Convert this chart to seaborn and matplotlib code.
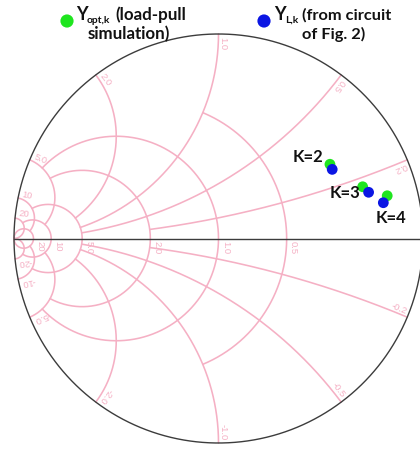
import numpy as np
import pandas as pd
import matplotlib
matplotlib.use("Agg")
import matplotlib.pyplot as plt
import seaborn as sns

# Harmonic index of each point pair
harmonic = ["K=2", "K=3", "K=4"]
# Optimum load admittance from load-pull simulation (reflection plane: re, im)
yopt_re = [0.545, 0.705, 0.825]
yopt_im = [0.363, 0.253, 0.209]
# Load admittance obtained from the circuit model
yl_re = [0.556, 0.734, 0.806]
yl_im = [0.338, 0.226, 0.175]

# Admittance Smith chart grid: conductance circles and susceptance arcs
g_values = [0.5, 1.0, 2.0, 5.0, 10.0, 20.0]
g_limits = [1.0, 5.0, 5.0, 10.0, 20.0, np.inf]      # |b| extent of each circle
g_labels = ["0.5", "1.0", "2.0", "5.0", "10", "20"]
b_values = [0.2, 0.5, 1.0, 2.0, 5.0, 10.0, 20.0]
b_limits = [2.0, 5.0, 5.0, 5.0, 10.0, 20.0, np.inf]  # g extent of each arc
b_labels = ["0.2", "0.5", "1.0", "2.0", "5.0", "10", "20"]

GRID = "#f5b0c4"
EDGE = "#3c3c3c"
GREEN = "#1fe51f"
BLUE = "#0b16e3"
INK = "#111111"

sns.set_theme(style="white")
plt.rcParams["font.family"] = ["Lato", "DejaVu Sans"]


def to_plane(g, b):
    """Map normalized admittance g + jb onto the (mirrored) chart plane."""
    y = np.asarray(g) + 1j * np.asarray(b)
    w = (y - 1) / (y + 1)
    return -w.real, w.imag


fig = plt.figure(figsize=(4.2, 4.51), dpi=100)
ax = fig.add_axes([0, 0, 1, 1])
scale = 204.5
x0 = -1 - 14 / scale
y1 = 1 + 34 / scale
ax.set_xlim(x0, x0 + 420 / scale)
ax.set_ylim(y1 - 451 / scale, y1)
ax.set_aspect("equal")
ax.axis("off")

label_kw = dict(fontsize=6.8, color=GRID, family=["Liberation Sans"],
                rotation_mode="anchor", va="bottom")

# conductance circles
for g, lim, lab in zip(g_values, g_limits, g_labels):
    t = np.linspace(-np.arctan(lim), np.arctan(lim), 900)
    t = np.clip(t, -np.pi / 2 + 1e-9, np.pi / 2 - 1e-9)
    u, v = to_plane(np.full_like(t, g), np.tan(t))
    ax.plot(u, v, color=GRID, lw=1.15, zorder=1)
    ue, _ = to_plane(g, 0.0)
    ax.text(ue + 0.012, -0.012, lab, rotation=-90, ha="left", **label_kw)

# susceptance arcs (both signs)
for b, lim, lab in zip(b_values, b_limits, b_labels):
    t = np.linspace(0, min(np.arctan(lim), np.pi / 2 - 1e-9), 900)
    gg = np.tan(t)
    for sgn in (1, -1):
        u, v = to_plane(gg, np.full_like(gg, sgn * b))
        ax.plot(u, v, color=GRID, lw=1.15, zorder=1)
        pu, pv = to_plane(0.0, sgn * b)
        theta = np.degrees(np.arctan2(pv, pu))
        r = 0.985
        if sgn > 0:
            ax.text(r * pu, r * pv, lab, rotation=theta + 180, ha="left",
                    **label_kw)
        else:
            ax.text(r * pu, r * pv, "-" + lab, rotation=theta, ha="right",
                    **label_kw)

# outer boundary and real axis
phi = np.linspace(0, 2 * np.pi, 1000)
ax.plot(np.cos(phi), np.sin(phi), color=EDGE, lw=1.0, zorder=2)
ax.plot([-1, 1.2], [0, 0], color=EDGE, lw=1.0, zorder=2)

# data points
df = pd.DataFrame({
    "re": yopt_re + yl_re,
    "im": yopt_im + yl_im,
    "source": ["opt"] * len(yopt_re) + ["load"] * len(yl_re),
})
sns.scatterplot(data=df, x="re", y="im", hue="source",
                palette={"opt": GREEN, "load": BLUE}, s=60,
                edgecolor="none", legend=False, ax=ax, zorder=5)

offsets = [(-24, 12), (-24, -1), (8, -15)]
for lab, xr, yi, off in zip(harmonic, yl_re, yl_im, offsets):
    ax.annotate(lab, (xr, yi), xytext=off, textcoords="offset pixels",
                ha="center", va="center", fontsize=12, fontweight="bold",
                color=INK, zorder=6)

# legend at the top (positions in pixels from the top-left corner)
W, H = 420.0, 451.0


def head(px, py, s, size=12.2):
    ax.text(px / W, 1 - py / H, s, transform=ax.transAxes, ha="left",
            va="baseline", fontsize=size, fontweight="bold", color=INK)


ax.scatter([67 / W], [1 - 21 / H], s=90, color=GREEN, edgecolor="none",
           transform=ax.transAxes, clip_on=False, zorder=6)
ax.scatter([264 / W], [1 - 21 / H], s=90, color=BLUE, edgecolor="none",
           transform=ax.transAxes, clip_on=False, zorder=6)
head(76, 20, "Y", size=13.0)
head(87, 23, "opt,k", size=7.4)
head(115, 20, "(load-pull")
head(88, 39, "simulation)")
head(274, 20, "Y", size=13.0)
head(285, 23, "L,k", size=7.4)
head(302, 20, "(from circuit", size=11.8)
head(302, 39, "of Fig. 2)", size=11.8)

fig.savefig("out.png", dpi=100, facecolor="white")
